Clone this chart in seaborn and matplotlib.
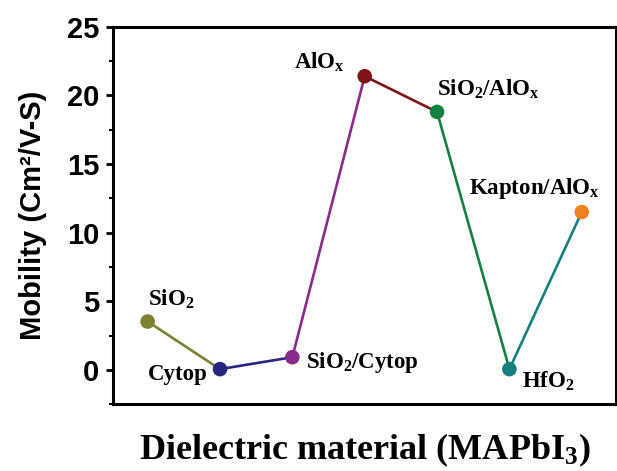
import seaborn as sns
import matplotlib.pyplot as plt
import pandas as pd
from matplotlib.ticker import MultipleLocator

# data
materials = ['SiO$_2$', 'Cytop', 'SiO$_2$/Cytop', 'AlO$_x$', 'SiO$_2$/AlO$_x$', 'HfO$_2$', 'Kapton/AlO$_x$']
mobility = [3.52, 0.05, 0.92, 21.4, 18.8, 0.05, 11.5]
colors = ['#7f7f2f', '#26267f', '#8a2a8a', '#7f1515', '#158040', '#158080', '#f08020']

# label offsets (points) and alignment
offsets = [(0, 16), (-9, -4), (10, -4), (-14, 10), (0, 16), (9, -9), (-34, 17)]
aligns = ['left', 'right', 'left', 'right', 'left', 'left', 'center']

sns.set_style('ticks')
plt.rcParams['mathtext.fontset'] = 'custom'
plt.rcParams['mathtext.rm'] = 'Liberation Serif:bold'
plt.rcParams['mathtext.it'] = 'Liberation Serif:bold'
plt.rcParams['mathtext.bf'] = 'Liberation Serif:bold'
plt.rcParams['axes.edgecolor'] = 'black'
plt.rcParams['text.color'] = 'black'
plt.rcParams['axes.labelcolor'] = 'black'
plt.rcParams['ytick.color'] = 'black'

df = pd.DataFrame({'pos': range(len(materials)), 'name': materials, 'mobility': mobility})

# segments: each coloured like its starting point
seg = []
for i in range(len(materials) - 1):
    seg.append({'seg': i, 'pos': i, 'mobility': mobility[i]})
    seg.append({'seg': i, 'pos': i + 1, 'mobility': mobility[i + 1]})
seg = pd.DataFrame(seg)

fig = plt.figure(figsize=(6.17, 4.71), dpi=100)
ax = fig.add_axes([0.183, 0.142, 0.815, 0.801])

sns.lineplot(data=seg, x='pos', y='mobility', hue='seg', palette=colors[:-1],
             sort=False, legend=False, linewidth=1.9, ax=ax, zorder=2)
sns.scatterplot(data=df, x='pos', y='mobility', hue='name', palette=colors,
                s=110, edgecolor='none', legend=False, ax=ax, zorder=3)

for i, name in enumerate(materials):
    ax.annotate(name, (i, mobility[i]), xytext=offsets[i], textcoords='offset points',
                ha=aligns[i], va='center', fontsize=16.5, fontweight='bold',
                family='Liberation Serif')

ax.set_xlim(-0.48, 6.47)
ax.set_ylim(-2.5, 25)
ax.set_xticks([])
ax.yaxis.set_major_locator(MultipleLocator(5))
ax.yaxis.set_minor_locator(MultipleLocator(2.5))
ax.tick_params(axis='y', which='major', direction='out', length=5, width=2,
               labelsize=21, pad=5)
ax.tick_params(axis='y', which='minor', direction='out', length=3, width=1.5)
for lab in ax.get_yticklabels():
    lab.set_fontweight('bold')
    lab.set_family('Liberation Sans')
for sp in ax.spines.values():
    sp.set_linewidth(2.2)
    sp.set_visible(True)

ax.set_ylabel('Mobility (Cm²/V-S)', fontsize=21, fontweight='bold',
              family='Liberation Sans', labelpad=14)
ax.set_xlabel('Dielectric material (MAPbI$_3$)', fontsize=26, fontweight='bold',
              family='Liberation Serif', labelpad=20)

fig.savefig('out.png', dpi=100)
